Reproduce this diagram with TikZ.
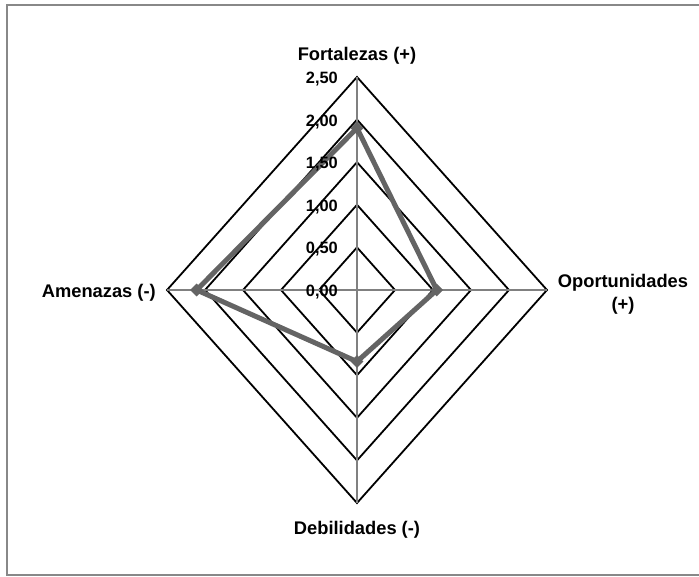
\documentclass[tikz,border=0pt]{standalone}
\usepackage{fontspec}
\setmainfont{Liberation Sans}
\usetikzlibrary{shapes.geometric}
\definecolor{framegray}{RGB}{136,136,136}
\definecolor{axisgray}{RGB}{128,128,128}
\definecolor{datagray}{RGB}{100,100,100}
\begin{document}
\begin{tikzpicture}[x=1pt,y=-1pt,
  ring/.style={draw=black,line width=1.8pt,line join=miter},
  spoke/.style={draw=axisgray,line width=2pt},
  series/.style={draw=datagray,line width=5pt,line join=round},
  marker/.style={diamond,fill=datagray,inner sep=0pt,minimum size=13pt},
  axlabel/.style={font=\fontsize{18.3}{21}\selectfont\bfseries,inner sep=0pt},
  ticklabel/.style={font=\fontsize{16.4}{18}\selectfont\bfseries,inner sep=0pt,anchor=east}]
\useasboundingbox (0,0) rectangle (699,577);
\draw[draw=framegray,line width=2.2pt] (720,5) -- (7,5) -- (7,575) -- (720,575);
\begin{scope}[shift={(357,290)}]
  \coordinate (C) at (0,0);
  \foreach \r in {0.5,1.0,1.5,2.0,2.5}{
    \draw[ring] (76*\r,0) -- (0,-85.2*\r) -- (-76*\r,0) -- (0,85.2*\r) -- cycle;
  }
  \coordinate (Ftop) at (0,-213);
  \coordinate (Obot) at (190,0);
  \coordinate (Dbot) at (0,213);
  \coordinate (Aleft) at (-190,0);
  \draw[spoke] (Ftop) -- (Dbot);
  \draw[spoke] (Aleft) -- (Obot);
  \coordinate (pF) at (0,-85.2*1.90);
  \coordinate (pO) at (76*1.05,0);
  \coordinate (pD) at (0,85.2*0.84);
  \coordinate (pA) at (-76*2.11,0);
  \draw[series] (pF) -- (pO) -- (pD) -- (pA) -- cycle;
  \foreach \p in {pF,pO,pD,pA}{ \node[marker] (m\p) at (\p) {}; }
  \node[ticklabel] (t0) at (-19,2) {0,00};
  \node[ticklabel] (t1) at (-19,-42.6+2) {0,50};
  \node[ticklabel] (t2) at (-19,-85.2+2) {1,00};
  \node[ticklabel] (t3) at (-19,-127.8+2) {1,50};
  \node[ticklabel] (t4) at (-19,-170.4+2) {2,00};
  \node[ticklabel] (t5) at (-19,-213+2) {2,50};
  \node[axlabel] (lF) at (0,-234) {Fortalezas (+)};
  \node[axlabel,align=center] (lO) at (266,4) {Oportunidades\\[2pt](+)};
  \node[axlabel] (lD) at (0,240) {Debilidades (-)};
  \node[axlabel,anchor=east] (lA) at (-201,3) {Amenazas (-)};
\end{scope}
\end{tikzpicture}
\end{document}
